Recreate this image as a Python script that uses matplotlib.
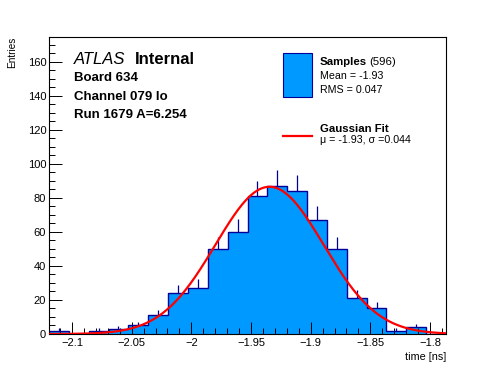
import numpy as np
import matplotlib
matplotlib.use('Agg')
import matplotlib.pyplot as plt
import matplotlib.patches as patches
from matplotlib.lines import Line2D

# dati
counts = [2, 0, 2, 3, 5, 11, 24, 27, 50, 60, 81, 87, 84, 67, 50, 21, 15, 2, 4, 0]
x_min, x_max = -2.1193, -1.7866
n_bins = 20
fit_mu, fit_sigma, fit_amp = -1.9345, 0.0453, 86.5
xtick_vals = [-2.1, -2.05, -2.0, -1.95, -1.9, -1.85, -1.8]
xtick_labels = ['\u22122.1', '\u22122.05', '\u22122', '\u22121.95', '\u22121.9', '\u22121.85', '\u22121.8']
ytick_vals = [0, 20, 40, 60, 80, 100, 120, 140, 160]
info_lines = ['Board 634', 'Channel 079 lo', 'Run 1679 A=6.254']
n_samples = 596
mean_val, rms_val = -1.93, 0.047
fit_mu_lab, fit_sigma_lab = -1.93, 0.044

plt.rcParams['font.family'] = ['Liberation Sans', 'DejaVu Sans']

fill_col = '#0099ff'
line_col = '#000099'

W, H = 496, 372
fig = plt.figure(figsize=(W / 100, H / 100), dpi=100)
ax = fig.add_axes([49 / W, 38 / H, 397 / W, 297 / H])

def fx(px):
    return px / W

def fy(py):
    return 1 - py / H

counts = np.array(counts, dtype=float)
edges = np.linspace(x_min, x_max, n_bins + 1)
centers = 0.5 * (edges[:-1] + edges[1:])

# istogramma riempito + contorno
ax.stairs(counts, edges, fill=True, color=fill_col, zorder=1)
ax.stairs(counts, edges, color=line_col, lw=1.0, zorder=2)

# barre d'errore (parte superiore)
m = counts > 0
ax.vlines(centers[m], counts[m], counts[m] + np.sqrt(counts[m]), color=line_col, lw=0.9, zorder=2)

# fit gaussiano
xf = np.linspace(x_min, x_max, 400)
yf = fit_amp * np.exp(-0.5 * ((xf - fit_mu) / fit_sigma) ** 2)
ax.plot(xf, yf, color='red', lw=1.6, zorder=3)

ax.set_xlim(x_min, x_max)
ax.set_ylim(0, 174.5)

ax.set_xticks(xtick_vals)
ax.set_xticklabels(xtick_labels)
ax.set_xticks(np.arange(-2.11, -1.785, 0.01), minor=True)
ax.set_yticks(ytick_vals)
ax.set_yticks(np.arange(0, 175, 5), minor=True)
ax.tick_params(which='both', direction='in', width=0.7, labelsize=8, top=False, right=False)
ax.tick_params(which='major', length=9)
ax.tick_params(which='minor', length=4.5)
ax.tick_params(axis='y', pad=2)
ax.tick_params(axis='x', pad=3)
for s in ax.spines.values():
    s.set_linewidth(0.8)

fig.text(fx(12), fy(37), 'Entries', rotation=90, ha='center', va='top', fontsize=7.2)
fig.text(fx(446), fy(360), 'time [ns]', ha='right', va='baseline', fontsize=7.8)

# testo ATLAS
fig.text(fx(74), fy(63.5), 'ATLAS', style='italic', fontsize=12, va='baseline')
fig.text(fx(135), fy(63.5), 'Internal', weight='bold', fontsize=12, va='baseline')
for i, t in enumerate(info_lines):
    fig.text(fx(74), fy(81 + 18.7 * i), t, weight='bold', fontsize=9.5, va='baseline')

# legenda
fig.add_artist(patches.Rectangle((fx(283), fy(96.7)), (311.7 - 283) / W, (96.7 - 53.3) / H,
                                 transform=fig.transFigure, facecolor=fill_col,
                                 edgecolor=line_col, lw=0.8))
fig.text(fx(320), fy(65), 'Samples', weight='bold', fontsize=8.2, va='baseline')
fig.text(fx(369.5), fy(65), '(%d)' % n_samples, fontsize=8.2, va='baseline')
fig.text(fx(320), fy(79.3), 'Mean = %.2f' % mean_val, fontsize=7.7, va='baseline')
fig.text(fx(320), fy(93.3), 'RMS = %.3f' % rms_val, fontsize=7.7, va='baseline')

fig.add_artist(Line2D([fx(283), fx(312)], [fy(136), fy(136)], transform=fig.transFigure,
                      color='red', lw=1.6))
fig.text(fx(320), fy(132.3), 'Gaussian Fit', weight='bold', fontsize=8.2, va='baseline')
fig.text(fx(320), fy(143.3), '\u03bc = %.2f, \u03c3 =%.3f' % (fit_mu_lab, fit_sigma_lab),
         fontsize=7.7, va='baseline')

fig.savefig('out.png', dpi=100)
